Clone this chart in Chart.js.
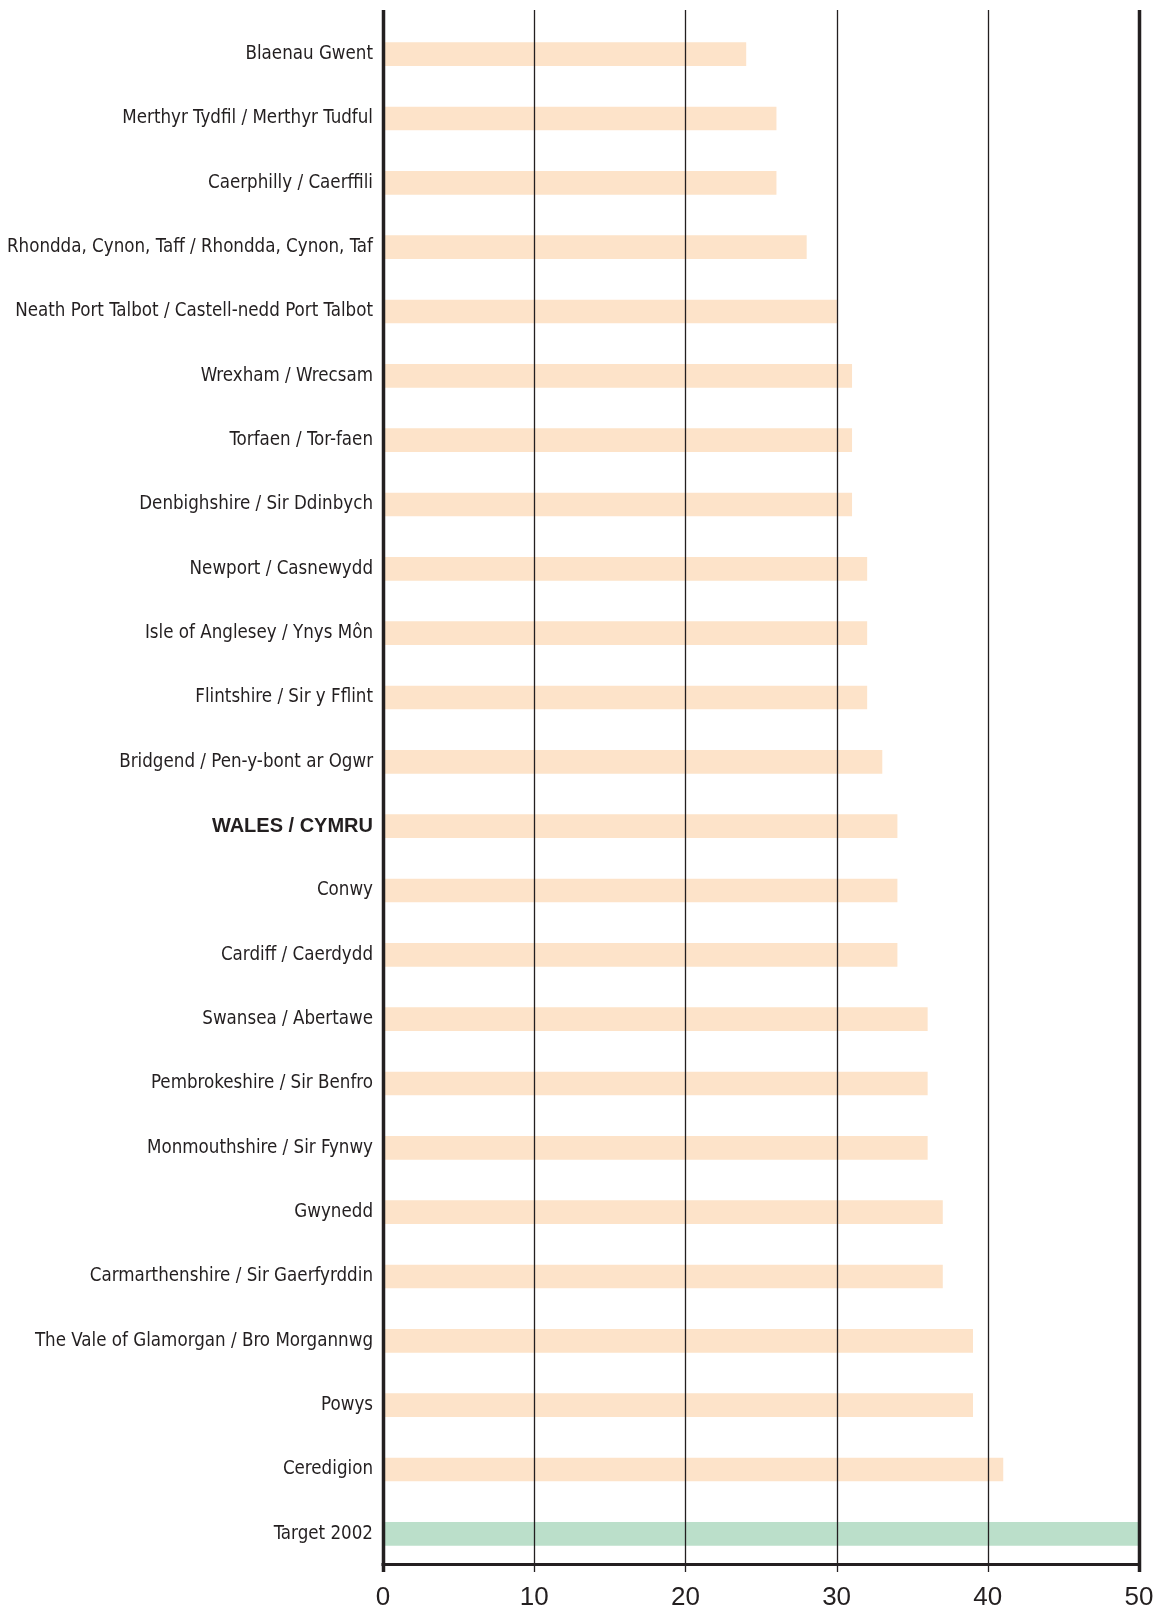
<!DOCTYPE html>
<html>
<head>
<meta charset="utf-8">
<script src="https://cdn.jsdelivr.net/npm/chart.js@4"></script>
<style>
  body { margin: 0; background: #fff; }
  #wrap { width: 1172px; height: 1608px; }
</style>
</head>
<body>
<div id="wrap"><canvas id="chart"></canvas></div>
<script>
const categories = [
  "Blaenau Gwent",
  "Merthyr Tydfil / Merthyr Tudful",
  "Caerphilly / Caerffili",
  "Rhondda, Cynon, Taff / Rhondda, Cynon, Taf",
  "Neath Port Talbot / Castell-nedd Port Talbot",
  "Wrexham / Wrecsam",
  "Torfaen / Tor-faen",
  "Denbighshire / Sir Ddinbych",
  "Newport / Casnewydd",
  "Isle of Anglesey / Ynys Môn",
  "Flintshire / Sir y Fflint",
  "Bridgend / Pen-y-bont ar Ogwr",
  "WALES / CYMRU",
  "Conwy",
  "Cardiff / Caerdydd",
  "Swansea / Abertawe",
  "Pembrokeshire / Sir Benfro",
  "Monmouthshire / Sir Fynwy",
  "Gwynedd",
  "Carmarthenshire / Sir Gaerfyrddin",
  "The Vale of Glamorgan / Bro Morgannwg",
  "Powys",
  "Ceredigion",
  "Target 2002"
];

const values = [24, 26, 26, 28, 30, 31, 31, 31, 32, 32, 32, 33, 34, 34, 34, 36, 36, 36, 37, 37, 39, 39, 41, 50];

const xTicks = [0, 10, 20, 30, 40, 50];

const BAR_COLOR = "#fde3c9";
const TARGET_COLOR = "#bbdfca";
const INK = "#231f20";
const BOLD_LABEL = "WALES / CYMRU";

// vertical grid lines sit on top of the bars, and run a bit above the plot
const gridOnTop = {
  id: "gridOnTop",
  afterDatasetsDraw(chart) {
    const { ctx, chartArea, scales } = chart;
    ctx.save();
    ctx.strokeStyle = INK;
    xTicks.forEach((v) => {
      const px = Math.round(scales.x.getPixelForValue(v)) + 0.5;
      const edge = v === xTicks[0] || v === xTicks[xTicks.length - 1];
      ctx.lineWidth = edge ? 3.5 : 1.3;
      ctx.beginPath();
      ctx.moveTo(px, 10);
      ctx.lineTo(px, chartArea.bottom + 6);
      ctx.stroke();
    });
    // bottom axis line
    ctx.lineWidth = 3;
    ctx.beginPath();
    ctx.moveTo(scales.x.getPixelForValue(xTicks[0]) - 1.5, chartArea.bottom - 1.5);
    ctx.lineTo(scales.x.getPixelForValue(xTicks[xTicks.length - 1]) + 1.5, chartArea.bottom - 1.5);
    ctx.stroke();
    ctx.restore();
  },
};

new Chart(document.getElementById("chart"), {
  type: "bar",
  data: {
    labels: categories,
    datasets: [
      {
        data: values,
        backgroundColor: categories.map((c, i) => (i === categories.length - 1 ? TARGET_COLOR : BAR_COLOR)),
        borderWidth: 0,
        barThickness: 23,
      },
    ],
  },
  options: {
    indexAxis: "y",
    responsive: true,
    maintainAspectRatio: false,
    animation: false,
    layout: { padding: { top: 22, right: 33, left: 0, bottom: 0 } },
    plugins: {
      legend: { display: false },
      tooltip: { enabled: false },
    },
    scales: {
      x: {
        min: 0,
        max: 50,
        afterBuildTicks: (s) => { s.ticks = xTicks.map((v) => ({ value: v })); },
        afterFit: (s) => { s.height = 42; },
        grid: { display: false, drawTicks: false },
        border: { display: false },
        ticks: {
          padding: 16,
          color: INK,
          font: { family: "Liberation Sans", size: 26 },
        },
      },
      y: {
        afterFit: (s) => { s.width = 383; },
        grid: { display: false, drawTicks: false },
        border: { display: false },
        ticks: {
          padding: 10,
          color: INK,
          autoSkip: false,
          font: (c) =>
            categories[c.index] === BOLD_LABEL
              ? { family: "Liberation Sans", size: 20, weight: "bold" }
              : { family: "'DejaVu Sans Condensed', 'DejaVu Sans'", size: 18.6, weight: "normal condensed" },
        },
      },
    },
  },
  plugins: [gridOnTop],
});
</script>
</body>
</html>
